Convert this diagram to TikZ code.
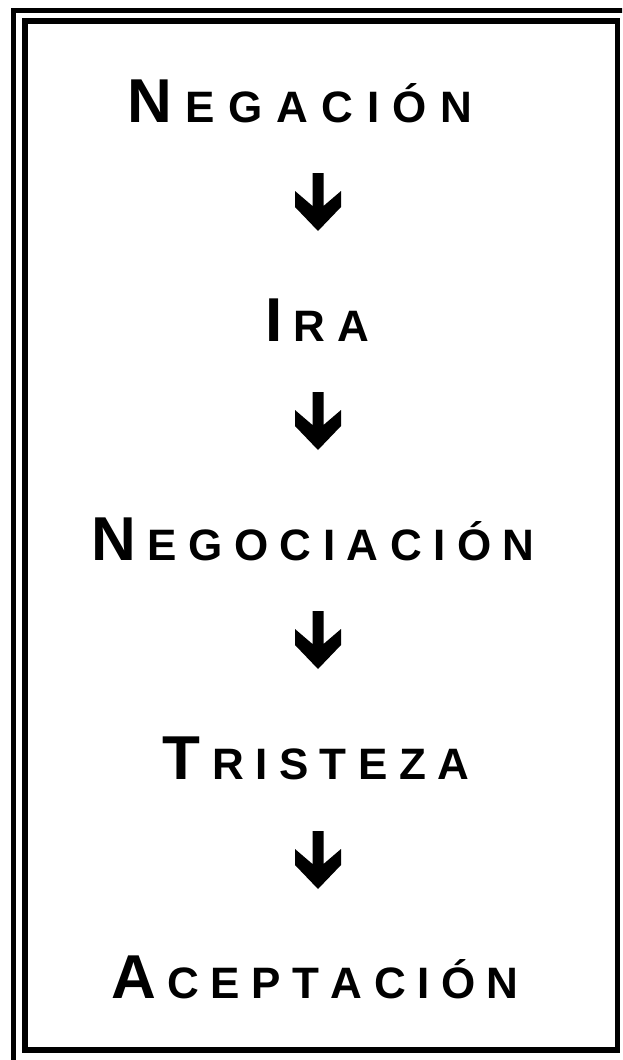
\documentclass[tikz,border=0pt]{standalone}
\usepackage{fontspec}
\setmainfont{Liberation Sans}
\newcommand\BigL[1]{{\fontsize{62}{66}\selectfont\bfseries #1}}
\newcommand\SmL[1]{{\fontsize{44}{48}\selectfont\bfseries #1}}
\newcommand\lgap{\hspace{11.5pt}}
\newcommand\wgap{\hspace{13.5pt}}
\tikzset{
  word/.style={anchor=base, inner sep=0pt, text=black},
  frameline/.style={draw=black, line width=5.5pt},
  dnarrow/.pic={\fill[black] (-5.5,0) -- (5.5,0) -- (5.5,33) -- (23,18) -- (23,34) -- (0,58) -- (-23,34) -- (-23,18) -- (-5.5,33) -- cycle;}
}
\begin{document}
\begin{tikzpicture}[x=1pt,y=-1pt]
\useasboundingbox (0,0) rectangle (622,1060);
\clip (0,0) rectangle (622,1060);
\fill[white] (0,0) rectangle (622,1060);
% frames
\draw[frameline, line width=5pt] (13,10) rectangle (632,1068);
\draw[frameline] (25,21) rectangle (617.5,1050);
% words
\node[word] (neg) at (300,122) {\BigL{N}\wgap\SmL{E\wgap G\wgap A\wgap C\wgap I\wgap Ó\wgap N}};
\node[word] (ira) at (317,341) {\BigL{I}\lgap\SmL{R\lgap A}};
\node[word] (nego) at (313,560) {\BigL{N}\lgap\SmL{E\lgap G\lgap O\lgap C\lgap I\lgap A\lgap C\lgap I\lgap Ó\lgap N}};
\node[word] (tri) at (316,779) {\BigL{T}\lgap\SmL{R\lgap I\lgap S\lgap T\lgap E\lgap Z\lgap A}};
\node[word] (acep) at (315,998) {\BigL{A}\lgap\SmL{C\lgap E\lgap P\lgap T\lgap A\lgap C\lgap I\lgap Ó\lgap N}};
% arrows
\coordinate (a1) at (318,173);
\coordinate (a2) at (318,392);
\coordinate (a3) at (318,611);
\coordinate (a4) at (318,831);
\pic at (a1) {dnarrow};
\pic at (a2) {dnarrow};
\pic at (a3) {dnarrow};
\pic at (a4) {dnarrow};
\end{tikzpicture}
\end{document}
